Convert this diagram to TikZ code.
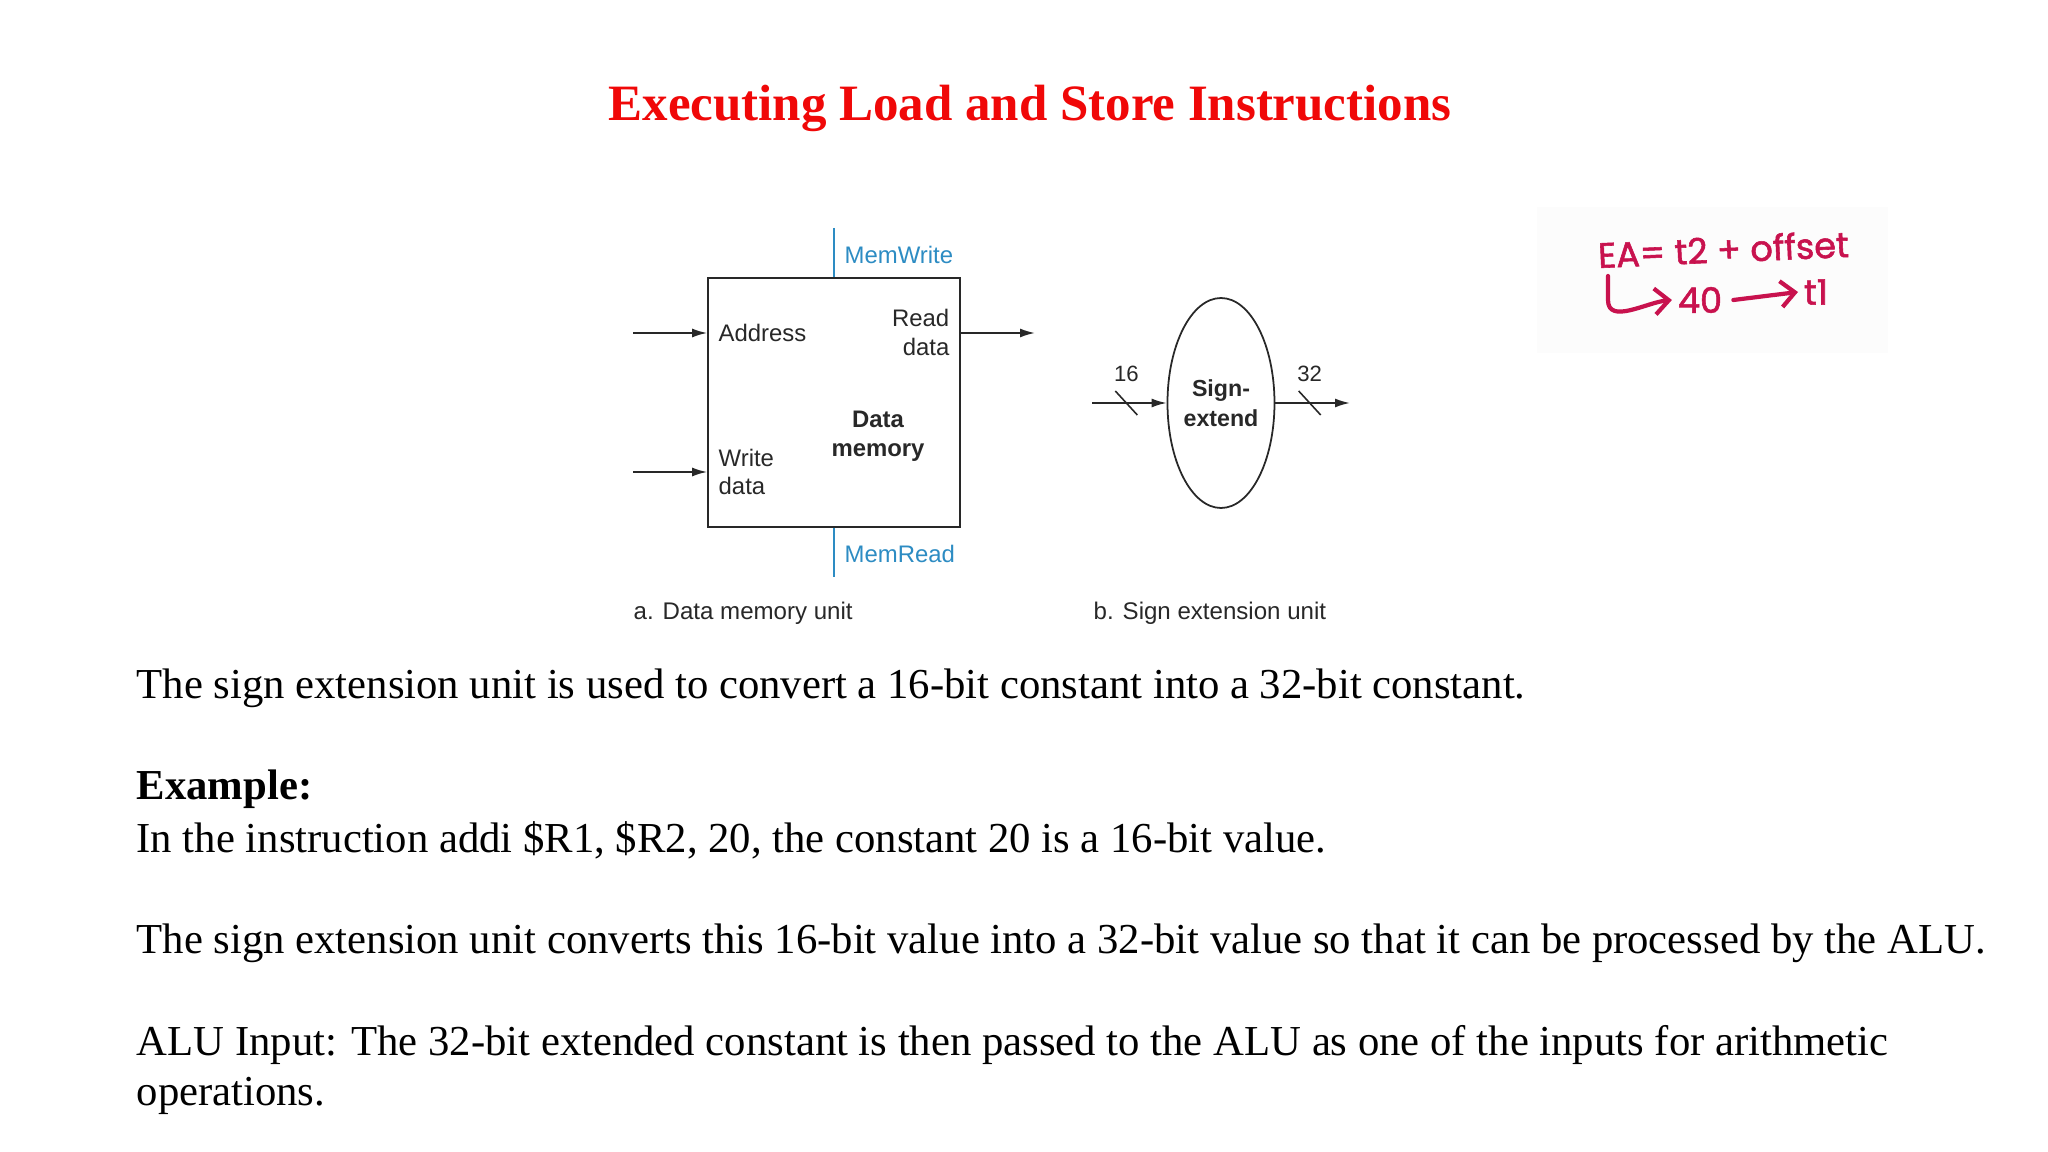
\documentclass[tikz,border=0pt]{standalone}
\usepackage{fontspec}
\setmainfont{Liberation Serif}
\setsansfont{Liberation Sans}
\newfontfamily\handfont[FakeBold=1.6]{Poppins}
\usetikzlibrary{arrows.meta,positioning,shapes.geometric}
\definecolor{titlered}{RGB}{240,8,8}
\definecolor{ctrlblue}{RGB}{45,140,195}
\definecolor{inkpink}{RGB}{200,18,78}
\definecolor{figtext}{RGB}{40,40,40}

\begin{document}
\begin{tikzpicture}[
        unit/.style={draw=figtext, line width=0.5pt, minimum width=2.52cm, minimum height=2.49cm, inner sep=0pt},
        extend/.style={ellipse, draw=figtext, line width=0.5pt, minimum width=1.07cm, minimum height=2.10cm, inner sep=0pt, align=center, font=\sffamily\bfseries\fontsize{6.6}{8.4}\selectfont, text=figtext},
        lbl/.style={font=\sffamily\fontsize{6.8}{8.2}\selectfont, text=figtext, inner sep=0pt},
        lblb/.style={font=\sffamily\bfseries\fontsize{6.8}{8.2}\selectfont, text=figtext, inner sep=0pt},
        ctrl/.style={font=\sffamily\fontsize{6.8}{8.2}\selectfont, text=ctrlblue, inner sep=0pt, anchor=west},
        num/.style={font=\sffamily\fontsize{6.3}{7.5}\selectfont, text=figtext, inner sep=0pt},
        caption/.style={font=\sffamily\fontsize{6.85}{8.2}\selectfont, text=figtext, inner sep=0pt, anchor=west},
        body/.style={font=\fontsize{12.15}{14.5}\selectfont, inner sep=0pt, anchor=base west},
        hand/.style={font=\handfont\fontsize{10}{12}\selectfont, text=inkpink, inner sep=0pt},
        arr/.style={-{Latex[length=1.5mm,width=0.9mm]}, line width=0.5pt, figtext},
        ctrlline/.style={draw=ctrlblue, line width=0.6pt},
        ink/.style={-{Straight Barb[length=1.4mm,width=2.6mm]}, line width=1.2pt, inkpink, line cap=round, line join=round},
    ]
        \useasboundingbox[fill=white] (0,0) rectangle (20.48,-11.52);

        \node[font=\bfseries\fontsize{14.5}{17}\selectfont, text=titlered, inner sep=0pt, anchor=base] (title) at (10.30,-1.21) {Executing Load and Store Instructions};

        \node[unit] (dmem) at (8.34,-4.025) {};
        \node[lbl, anchor=west] (addr) at (7.18,-3.33) {Address};
        \node[lbl, align=right, anchor=east] (rdata) at (9.50,-3.325) {Read\\data};
        \node[lbl, align=left, anchor=west] (wdata) at (7.18,-4.72) {Write\\data};
        \node[lblb, align=center] (dmname) at (8.78,-4.36) {Data\\memory};
        \coordinate (addrin) at (6.33,-3.33);
        \coordinate (rdout) at (10.35,-3.33);
        \coordinate (wdin) at (6.33,-4.72);
        \coordinate (mwtop) at (8.34,-2.28);
        \coordinate (mrbot) at (8.34,-5.77);
        \draw[arr] (addrin) -- (addrin -| dmem.west);
        \draw[arr] (rdout -| dmem.east) -- (rdout);
        \draw[arr] (wdin) -- (wdin -| dmem.west);
        \draw[ctrlline] (mwtop) -- (dmem.north);
        \draw[ctrlline] (dmem.south) -- (mrbot);
        \node[ctrl] (memwrite) at (8.44,-2.55) {MemWrite};
        \node[ctrl] (memread) at (8.44,-5.54) {MemRead};
        \node[caption] (capa) at (6.33,-6.13) {a. Data memory unit};

        \node[extend] (sext) at (12.21,-4.03) {Sign-\\extend};
        \coordinate (sin) at (10.92,-4.03);
        \coordinate (sout) at (13.50,-4.03);
        \draw[arr] (sin) -- coordinate[pos=0.46] (bin) (sext.west);
        \draw[arr] (sext.east) -- coordinate[pos=0.46] (bout) (sout);
        \draw[figtext, line width=0.45pt] ([shift={(-0.11,0.12)}]bin) -- ([shift={(0.11,-0.12)}]bin);
        \draw[figtext, line width=0.45pt] ([shift={(-0.11,0.12)}]bout) -- ([shift={(0.11,-0.12)}]bout);
        \node[num, above=0.21cm of bin] (win) {16};
        \node[num, above=0.21cm of bout] (wout) {32};
        \node[caption] (capb) at (10.93,-6.13) {b. Sign extension unit};

        \fill[black!1.2] (15.37,-2.07) rectangle (18.88,-3.53);
        \node[hand, anchor=base west, rotate=2.5] (ea) at (15.98,-2.68) {EA= t2 + offset};
        \node[hand] (forty) at (17.00,-3.00) {40};
        \node[hand] (tone) at (18.16,-2.92) {t1};
        \coordinate (hook) at (16.08,-2.76);
        \draw[ink] (hook) -- ++(0,-0.24) to[out=-90,in=185] ([xshift=-1.5pt]forty.west);
        \draw[ink] ([xshift=3pt]forty.east) -- ([xshift=-1.5pt]tone.west);

        \node[body] (intro) at (1.36,-6.98) {The sign extension unit is used to convert a 16-bit constant into a 32-bit constant.};
        \node[body] (exhead) at (1.36,-7.99) {\textbf{Example:}};
        \node[body] (exline) at (1.36,-8.52) {In the instruction addi \$R1, \$R2, 20, the constant 20 is a 16-bit value.};
        \node[body] (convline) at (1.36,-9.53) {The sign extension unit converts this 16-bit value into a 32-bit value so that it can be processed by the ALU.};
        \node[body] (aluline) at (1.36,-10.55) {ALU Input: The 32-bit extended constant is then passed to the ALU as one of the inputs for arithmetic};
        \node[body] (aluwrap) at (1.36,-11.05) {operations.};
    \end{tikzpicture}
\end{document}
